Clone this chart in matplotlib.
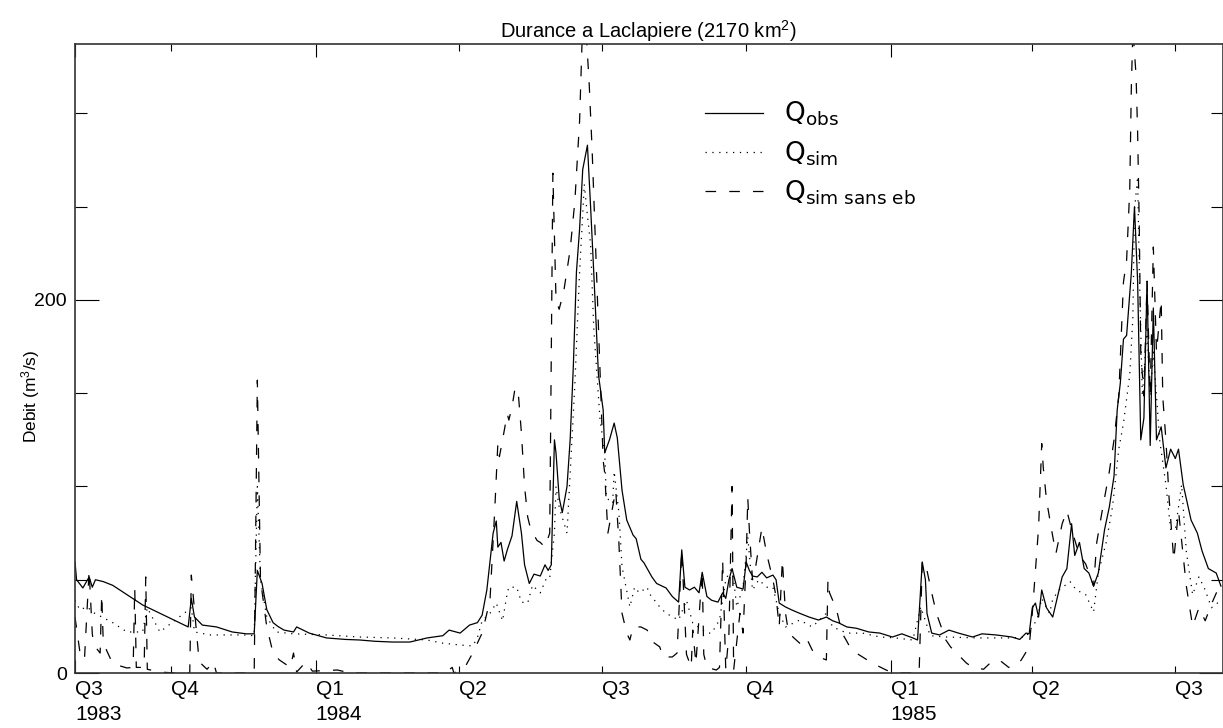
import numpy as np
import matplotlib
matplotlib.use("Agg")
import matplotlib.pyplot as plt
import matplotlib.dates as mdates
from matplotlib.ticker import FixedLocator, FixedFormatter, MultipleLocator

# day numbers counted from 1 Aug 1983, flows in m3/s
start = np.datetime64("1983-08-01")

obs_day = [0, 1, 5, 9, 11, 13, 18, 24, 33, 43, 54, 65, 72, 74, 76, 81, 90, 100,
           109, 114, 116, 119, 122, 126, 129, 133, 139, 141, 149, 160, 172, 181,
           191, 202, 213, 224, 234, 238, 245, 251, 256, 259, 262, 266, 268, 269,
           271, 273, 275, 278, 281, 284, 286, 289, 292, 296, 299, 301, 303, 305,
           306, 308, 310, 313, 315, 317, 319, 321, 323, 326, 328, 330, 333, 336,
           337, 340, 343, 345, 348, 351, 355, 357, 360, 362, 367, 370, 376, 380,
           384, 386, 388, 391, 394, 397, 399, 402, 405, 409, 412, 414, 416, 418,
           421, 425, 427, 429, 431, 434, 437, 440, 444, 446, 448, 452, 456, 461,
           467, 473, 478, 482, 486, 491, 497, 505, 512, 520, 526, 533, 536, 539,
           541, 542, 545, 550, 556, 562, 571, 577, 586, 596, 601, 605, 607, 609,
           611, 613, 615, 618, 622, 626, 628, 631, 634, 636, 639, 642, 645, 648,
           651, 655, 658, 661, 663, 665, 667, 669, 672, 674, 676, 678, 680, 682,
           684, 686, 688, 691, 694, 697, 700, 702, 705, 710, 714, 717, 721, 726,
           729]
obs_val = [59.5, 50, 45.6, 51.5, 46, 50, 49, 47, 42, 36.5, 32, 27.5, 24.7, 40,
           30, 25.7, 24.7, 22, 21, 21, 55, 48, 34, 27, 25, 23, 22, 24.7, 21.4,
           18.8, 18, 17.7, 17, 16.6, 16.6, 18.8, 20, 23, 21.4, 25.7, 27, 31, 44.5,
           75, 81.5, 67.5, 70, 60, 66, 73.5, 92, 75, 58, 48, 53, 52, 58, 55, 58,
           125, 118, 94, 86, 100, 125, 164, 215, 238, 270, 283, 250, 215, 160,
           141, 118, 125, 134, 126, 98, 82, 74, 72, 61, 59, 51.5, 48, 45.6, 41,
           38, 66, 46, 44.5, 46, 43, 54, 41, 39, 38, 43, 40, 50, 56, 46, 45, 59.5,
           55, 52, 51.5, 54, 51, 52.5, 50, 37.5, 35.4, 33.8, 32, 30, 28.4, 30, 28,
           26.8, 24.7, 24, 22, 21.4, 19.3, 21, 18.8, 17.7, 59.5, 50, 32, 21.4,
           20.4, 23, 21.4, 19.3, 21, 20.4, 19.3, 18, 21.4, 21, 35, 37.5, 30, 44.5,
           35, 30, 44.5, 51.5, 56, 80, 63, 70, 56, 53.6, 46.6, 53.6, 77, 89, 105.6,
           141, 155.5, 179, 181, 214.5, 250, 210, 125, 136.7, 210, 122, 195.7, 125,
           132, 110, 120, 115, 120, 101, 82, 75, 65.4, 56, 53.6, 46.6]

sim_day = [0, 3, 8, 11, 24, 33, 43, 46, 54, 74, 76, 86, 107, 114, 116, 118, 122,
           128, 139, 160, 181, 202, 224, 234, 245, 253, 256, 259, 264, 268, 272,
           275, 276, 281, 284, 288, 291, 296, 300, 302, 305, 306, 308, 313, 316,
           318, 321, 324, 326, 328, 330, 334, 337, 338, 342, 343, 346, 348, 353,
           356, 359, 364, 365, 372, 376, 384, 389, 393, 402, 405, 410, 414, 418,
           421, 425, 428, 431, 435, 440, 444, 448, 452, 461, 469, 478, 482, 491,
           501, 512, 522, 533, 538, 541, 544, 554, 575, 596, 605, 609, 612, 615,
           620, 622, 626, 633, 637, 643, 648, 651, 656, 660, 664, 667, 671, 673,
           674, 676, 677, 679, 682, 684, 686, 690, 694, 697, 700, 704, 707, 711,
           715, 719, 723, 729]
sim_val = [39, 34, 35.4, 32.7, 27, 22, 22, 35, 22, 35, 22, 20.4, 20.4, 20, 100,
           50, 30, 22, 21, 20.4, 19.3, 18.8, 17.7, 16, 15, 14.5, 19, 28, 32, 37.5,
           28, 43, 46, 46, 38, 37.5, 47, 43, 51, 51, 75, 100, 89, 75, 123, 155,
           215, 262, 245, 230, 185, 136, 118, 94, 91, 108, 86, 57, 35.4, 46, 43,
           46, 43, 35.4, 32, 28.4, 39, 26.8, 21.4, 21.4, 28.4, 50, 57, 35.4, 46,
           73, 44.5, 50, 46, 46, 32, 24.7, 28.4, 24.7, 32, 24.7, 21.4, 21.4, 19.3,
           18.8, 17.7, 35.4, 28, 20, 19.3, 18.8, 18.8, 19.3, 25, 28.4, 40, 32,
           39.6, 44.5, 49, 44.5, 42, 32.7, 53.6, 70, 89, 120, 134, 160, 191, 248,
           266, 219, 148.5, 184, 148.5, 172, 125, 101, 77, 77, 101, 65, 42, 51.5,
           44.5, 35, 39]

noeb_day = [0, 3, 6, 9, 11, 12, 16, 17, 18, 24, 33, 37, 38, 39, 44, 45, 46, 54,
            64, 73, 74, 79, 84, 88, 90, 98, 114, 116, 118, 122, 126, 130, 137,
            139, 141, 147, 151, 167, 175, 219, 235, 240, 241, 248, 253, 259, 264,
            267, 269, 270, 272, 275, 276, 278, 280, 282, 284, 286, 288, 290, 294,
            296, 299, 302, 304, 306, 308, 311, 315, 318, 321, 323, 325, 327, 329,
            332, 334, 336, 337, 339, 344, 346, 348, 351, 353, 355, 360, 364, 367,
            372, 374, 380, 383, 386, 389, 392, 393, 395, 399, 400, 402, 408, 410,
            412, 414, 416, 418, 419, 423, 425, 427, 428, 429, 431, 433, 437, 440,
            442, 444, 446, 448, 450, 452, 454, 461, 465, 469, 473, 478, 479, 480,
            482, 485, 488, 491, 494, 501, 507, 516, 521, 534, 537, 539, 540, 542,
            545, 548, 554, 557, 567, 571, 578, 583, 588, 594, 599, 602, 607, 609,
            613, 615, 616, 618, 621, 624, 628, 631, 634, 639, 643, 648, 650, 653,
            658, 661, 664, 667, 669, 671, 672, 673, 675, 676, 677, 678, 680, 682,
            684, 686, 688, 691, 692, 694, 696, 699, 702, 707, 711, 715, 719, 723,
            728]
noeb_val = [30, 12, 7, 55, 21, 15, 10.7, 42, 16, 5, 2.7, 3, 45.6, 3, 3, 51.5, 2,
            0.5, 0, 0, 52.5, 6, 2, 6, 0, 0, 0, 157, 50, 24.7, 10.7, 7, 3, 10.7,
            0.5, 6, 1, 1.6, 0, 0, 0, 3, 0, 3, 10.7, 21.4, 39, 87, 123, 116, 125,
            139, 135.6, 142.6, 153, 150, 128.7, 100, 83.6, 76.7, 71, 70, 67.5, 75,
            268, 200, 195, 205, 227, 253, 296, 350, 345, 318, 280, 210, 162, 114,
            107, 75, 98, 70, 32, 21.4, 17.7, 24.7, 24.7, 23, 17, 14, 8.6, 8.6,
            10.7, 66, 10, 3, 23, 5, 55, 10, 3, 1.6, 3, 60.6, 1.6, 21, 100, 1.6, 32,
            21.4, 60.6, 94, 76.7, 50, 57, 78, 64, 57, 50, 40.8, 24.7, 60.6, 32,
            21.4, 16, 19.3, 12.3, 8.6, 7, 50, 43, 39, 32, 21.4, 17, 12.3, 8.6, 5.4,
            1.6, 0, 0, 0, 60, 60, 55, 43, 32, 17.7, 14, 5.4, 3, 2, 6, 7, 3, 4, 7,
            14, 32, 78, 123, 110, 93, 78, 64, 80, 87, 77, 63, 58.4, 46.6, 70, 84.7,
            108, 125, 148.5, 209.6, 221.4, 259.5, 313.7, 345, 320.6, 290, 243, 172,
            148.5, 210, 148.5, 228.4, 172, 200, 148, 125, 94, 60.6, 87, 46.6, 25,
            35, 28, 37, 46.6]

# quarter ticks
year_ticks = ["1983-08-01", "1984-01-01", "1985-01-01"]
year_labels = ["Q3\n1983", "Q1\n1984", "Q1\n1985"]
quarter_ticks = ["1983-10-01", "1984-04-01", "1984-07-01", "1984-10-01",
                 "1985-04-01", "1985-07-01"]
quarter_labels = ["Q4", "Q2", "Q3", "Q4", "Q2", "Q3"]


def to_dates(days):
    return start + np.array(days).astype("timedelta64[D]")


plt.rcParams["font.family"] = ["Liberation Sans", "DejaVu Sans"]
plt.rcParams["mathtext.default"] = "regular"

fig = plt.figure(figsize=(12.23, 7.28), dpi=100)
ax = fig.add_axes([75 / 1223, 55 / 728, 1147.5 / 1223, 629.3 / 728])

ax.plot(to_dates(obs_day), obs_val, color="black", lw=0.9, ls="-",
        label="Q$_{obs}$")
ax.plot(to_dates(sim_day), sim_val, color="black", lw=0.9, ls=(0, (1, 4.5)),
        label="Q$_{sim}$")
ax.plot(to_dates(noeb_day), noeb_val, color="black", lw=0.9, ls=(0, (8.5, 10.5)),
        label="Q$_{sim\\ sans\\ eb}$")

ax.set_xlim(np.datetime64("1983-08-01"), np.datetime64("1985-07-31"))
ax.set_ylim(0, 337.4)

# x axis
ax.xaxis.set_major_locator(FixedLocator(mdates.date2num(np.array(year_ticks, dtype="datetime64[D]"))))
ax.xaxis.set_major_formatter(FixedFormatter(year_labels))
ax.xaxis.set_minor_locator(FixedLocator(mdates.date2num(np.array(quarter_ticks, dtype="datetime64[D]"))))
ax.xaxis.set_minor_formatter(FixedFormatter(quarter_labels))
ax.tick_params(axis="x", which="both", direction="in", top=True, labelsize=15, pad=5)
ax.tick_params(axis="x", which="major", length=9.5, width=0.8)
ax.tick_params(axis="x", which="minor", length=5, width=0.8)
for lab in ax.get_xticklabels(which="both"):
    lab.set_ha("left")
    lab.set_linespacing(1.4)

# y axis
ax.yaxis.set_major_locator(MultipleLocator(200))
ax.yaxis.set_minor_locator(MultipleLocator(50))
ax.tick_params(axis="y", which="both", direction="in", right=True, labelsize=14, pad=6)
ax.tick_params(axis="y", which="major", length=17, width=0.8)
ax.tick_params(axis="y", which="minor", length=8.5, width=0.8)
ax.set_ylabel("Debit (m$^3$/s)", fontsize=12.5)
ax.yaxis.set_label_coords(-0.029, 0.44)

for sp in ax.spines.values():
    sp.set_linewidth(1.2)
    sp.set_color("#333333")

ax.set_title("Durance a Laclapiere (2170 km$^2$)", fontsize=14.5, pad=4)

leg = ax.legend(loc="upper left", bbox_to_anchor=(705 / 1223, 1 - 100 / 728),
                bbox_transform=fig.transFigure, frameon=False, borderpad=0,
                borderaxespad=0, handlelength=2.2, handletextpad=0.8,
                labelspacing=0.4, prop={"family": "DejaVu Sans", "size": 19})

fig.savefig("out.png", dpi=100)
